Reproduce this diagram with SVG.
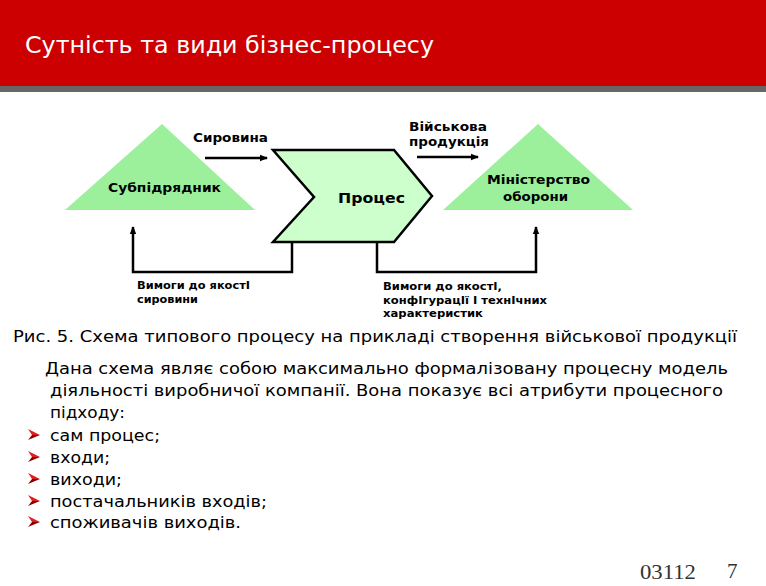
<svg xmlns="http://www.w3.org/2000/svg" width="766" height="586" viewBox="0 0 766 586">
<defs>
<style>
.lbl{font-family:"DejaVu Sans","Noto Sans",sans-serif;font-weight:bold;font-size:12px;fill:#000}
.sm{font-size:11px}
.body{font-family:"DejaVu Sans","Noto Sans",sans-serif;font-size:16px;fill:#000}
.conn{fill:none;stroke:#000;stroke-width:2.5}
.tri{fill:#9CF09C}
.foot{font-family:"Liberation Serif","Times New Roman",serif;font-size:21px;fill:#333}
</style>
<marker id="arr" markerUnits="userSpaceOnUse" markerWidth="8" markerHeight="8" viewBox="0 0 8 8" refX="7" refY="4" orient="auto">
<path d="M0,0.8 L8,4 L0,7.2 Z" fill="#000"/>
</marker>
<g id="bul">
<polygon points="0,0 12,6 4,6" fill="#E02020"/>
<polygon points="4,6 12,6 0,11" fill="#8A0000"/>
</g>
</defs>
<rect x="0" y="0" width="766" height="586" fill="#fff"/>
<g id="header">
<rect x="0" y="0" width="766" height="86" fill="#CC0000"/>
<rect x="0" y="86" width="766" height="6" fill="#666666"/>
<text x="25" y="53" font-family="DejaVu Sans, sans-serif" font-size="23" fill="#fff" textLength="409" lengthAdjust="spacingAndGlyphs">Сутність та види бізнес-процесу</text>
</g>
<g id="connectors">
<line class="conn" x1="205" y1="158" x2="267" y2="158" marker-end="url(#arr)"/>
<line class="conn" x1="417" y1="157" x2="478" y2="157" marker-end="url(#arr)"/>
<polyline class="conn" points="292,242 292,272 133,272 133,227" marker-end="url(#arr)"/>
<polyline class="conn" points="377,242 377,272 536,272 536,227" marker-end="url(#arr)"/>
</g>
<g id="subcontractor">
<polygon class="tri" points="162,124 255,210 65,210"/>
<text class="lbl" x="108" y="192" textLength="113" lengthAdjust="spacingAndGlyphs">Субпідрядник</text>
</g>
<g id="process">
<polygon points="273,150 394,150 432,196 394,242 273,242 314,197" fill="#CCFFCC" stroke="#000" stroke-width="2.5" stroke-linejoin="miter"/>
<text class="lbl" x="338" y="203" style="font-size:14px" textLength="67" lengthAdjust="spacingAndGlyphs">Процес</text>
</g>
<g id="ministry">
<polygon class="tri" points="538,124 633,210 443,210"/>
<text class="lbl" x="487" y="184" textLength="103" lengthAdjust="spacingAndGlyphs">Міністерство</text>
<text class="lbl" x="503" y="201" textLength="65" lengthAdjust="spacingAndGlyphs">оборони</text>
</g>
<g id="labels">
<text class="lbl" x="193" y="142" textLength="75" lengthAdjust="spacingAndGlyphs">Сировина</text>
<text class="lbl" x="409" y="131" textLength="78" lengthAdjust="spacingAndGlyphs">Військова</text>
<text class="lbl" x="409" y="146" textLength="80" lengthAdjust="spacingAndGlyphs">продукція</text>
<text class="lbl sm" x="137" y="289" textLength="113" lengthAdjust="spacingAndGlyphs">Вимоги до якостІ</text>
<text class="lbl sm" x="137" y="303" textLength="61" lengthAdjust="spacingAndGlyphs">сировини</text>
<text class="lbl sm" x="383" y="290" textLength="119" lengthAdjust="spacingAndGlyphs">Вимоги до якостІ,</text>
<text class="lbl sm" x="383" y="304" textLength="164" lengthAdjust="spacingAndGlyphs">конфІгурацІї І технІчних</text>
<text class="lbl sm" x="383" y="317" textLength="100" lengthAdjust="spacingAndGlyphs">характеристик</text>
</g>
<g id="text">
<text class="body" x="13" y="342" textLength="724" lengthAdjust="spacingAndGlyphs">Рис. 5. Схема типового процесу на прикладі створення військової продукції</text>
<text class="body" x="45" y="374" textLength="683" lengthAdjust="spacingAndGlyphs">Дана схема являє собою максимально формалізовану процесну модель</text>
<text class="body" x="50" y="396" textLength="673" lengthAdjust="spacingAndGlyphs">діяльності виробничої компанії. Вона показує всі атрибути процесного</text>
<text class="body" x="50" y="418" textLength="75" lengthAdjust="spacingAndGlyphs">підходу:</text>
<use href="#bul" x="28" y="429"/>
<text class="body" x="50" y="441" textLength="110" lengthAdjust="spacingAndGlyphs">сам процес;</text>
<use href="#bul" x="28" y="451"/>
<text class="body" x="50" y="463" textLength="60" lengthAdjust="spacingAndGlyphs">входи;</text>
<use href="#bul" x="28" y="473"/>
<text class="body" x="50" y="485" textLength="72" lengthAdjust="spacingAndGlyphs">виходи;</text>
<use href="#bul" x="28" y="495"/>
<text class="body" x="50" y="507" textLength="217" lengthAdjust="spacingAndGlyphs">постачальників входів;</text>
<use href="#bul" x="28" y="516"/>
<text class="body" x="50" y="528" textLength="191" lengthAdjust="spacingAndGlyphs">споживачів виходів.</text>
</g>
<g id="footer">
<text class="foot" x="640" y="579" textLength="56" lengthAdjust="spacingAndGlyphs">03112</text>
<text class="foot" x="727" y="578">7</text>
</g>
</svg>
